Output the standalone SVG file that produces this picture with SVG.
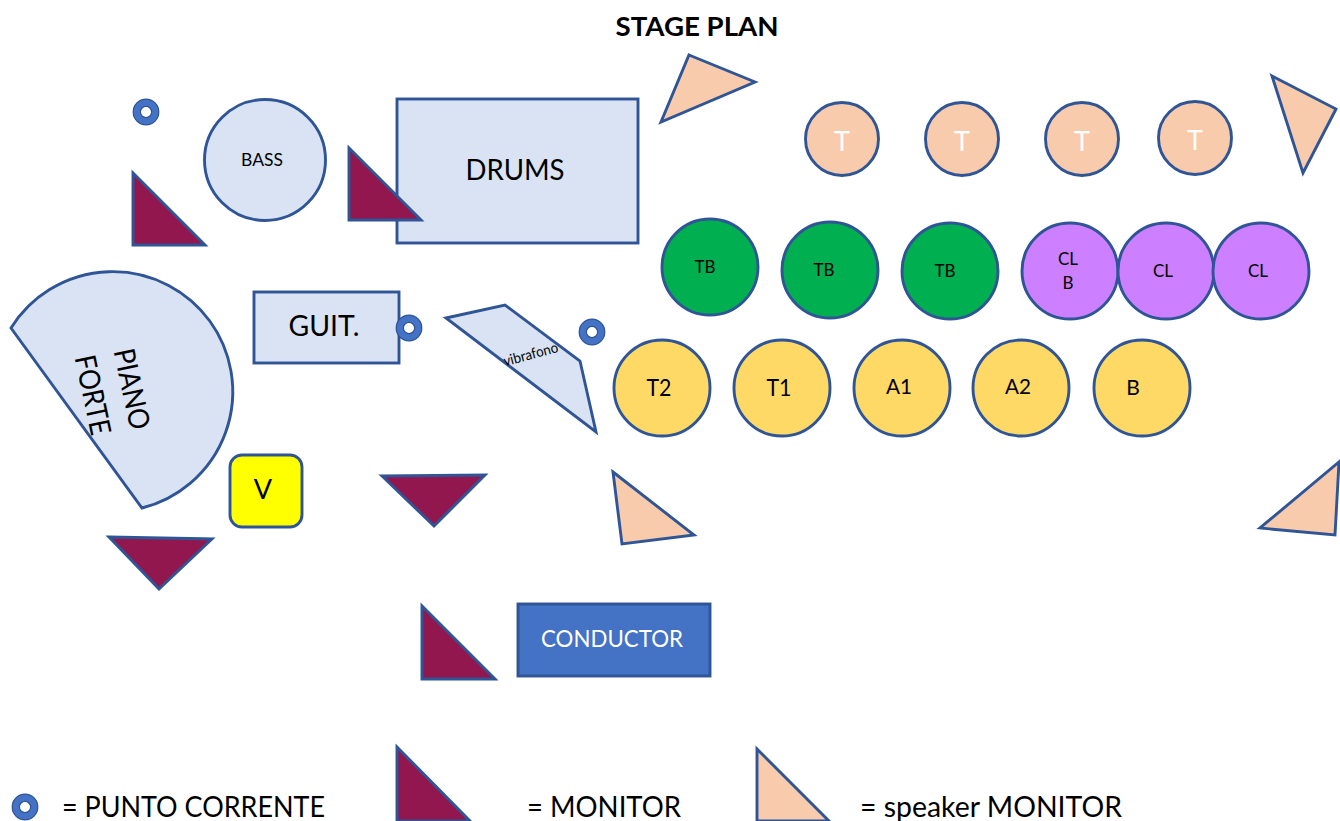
<svg xmlns="http://www.w3.org/2000/svg" width="1340" height="821" viewBox="0 0 1340 821">
<defs><style>
text{font-family:Lato,"Liberation Sans",sans-serif;fill:#000;text-anchor:middle}
.s{stroke:#2f5597;stroke-width:2.9;stroke-linejoin:miter}
.b{fill:#dae3f3}.m{fill:#93174f}.p{fill:#f8cbad}.g{fill:#00b050}.v{fill:#cc80ff}.y{fill:#ffd966}
.d{fill:#fff;stroke:#4472c4;stroke-width:7.5}
.dd{fill:none;stroke:#2f5597;stroke-width:1.2}
</style>
<g id="dot"><circle r="9.2" class="d"/><circle r="12.8" class="dd"/><circle r="5.6" class="dd"/></g>
</defs>
<rect width="1340" height="821" fill="#fff"/>
<text x="697" y="36" font-size="27" font-weight="700" textLength="163" lengthAdjust="spacingAndGlyphs">STAGE PLAN</text>
<g id="connectors"/>
<g id="drums"><rect x="397" y="99" width="241" height="144" class="s b"/><text x="515" y="180" font-size="29" textLength="99" lengthAdjust="spacingAndGlyphs">DRUMS</text></g>
<g id="bass"><circle cx="265" cy="160" r="60.5" class="s b"/><text x="262" y="166" font-size="17.5" textLength="42" lengthAdjust="spacingAndGlyphs">BASS</text></g>
<g id="mon1"><path d="M133 173V245H205Z" class="s m"/></g>
<g id="mon2"><path d="M349 148V220H421Z" class="s m"/></g>
<g id="dot1"><use href="#dot" x="146" y="112"/></g>
<g id="piano"><path d="M11 328A120 120 0 1 1 142 508Z" class="s b"/><text transform="translate(122 391) rotate(78)" font-size="29" textLength="82" lengthAdjust="spacingAndGlyphs">PIANO</text><text transform="translate(83 397) rotate(78)" font-size="29" textLength="81" lengthAdjust="spacingAndGlyphs">FORTE</text></g>
<g id="guit"><rect x="254" y="292" width="145" height="71" class="s b"/><text x="324" y="336" font-size="29" textLength="71" lengthAdjust="spacingAndGlyphs">GUIT.</text></g>
<g id="dot2"><use href="#dot" x="409" y="328"/></g>
<g id="vibrafono"><path d="M446 318L505 305L580 361L596 432Z" class="s b"/><text transform="translate(532 359) rotate(-15)" font-size="14.5" textLength="56" lengthAdjust="spacingAndGlyphs">vibrafono</text></g>
<g id="dot3"><use href="#dot" x="592" y="332"/></g>
<g id="v"><rect x="230" y="455" width="72" height="72" rx="12" fill="#ff0" class="s"/><text x="263" y="499" font-size="27">V</text></g>
<g id="mon3"><path d="M382 476L485 475L434 526Z" class="s m"/></g>
<g id="mon4"><path d="M109 537L212 539L159 589Z" class="s m"/></g>
<g id="mon5"><path d="M422 606V679H495Z" class="s m"/></g>
<g id="conductor"><rect x="518" y="604" width="192" height="72" fill="#4472c4" class="s"/><text x="612" y="647" font-size="23.5" style="fill:#fff" textLength="142" lengthAdjust="spacingAndGlyphs">CONDUCTOR</text></g>
<g id="sp1"><path d="M689 55L755 82L661 122Z" class="s p"/></g>
<g id="sp2"><path d="M1272 76L1336 109L1303 173Z" class="s p"/></g>
<g id="sp3"><path d="M613 472L694 535L622 544Z" class="s p"/></g>
<g id="sp4"><path d="M1339 462L1335 535L1260 528Z" class="s p"/></g>
<g id="t1"><circle cx="842" cy="139" r="36.5" class="s p"/><text x="842" y="151" font-size="27" style="fill:#fff">T</text></g>
<g id="t2"><circle cx="962" cy="139" r="36.5" class="s p"/><text x="962" y="151" font-size="27" style="fill:#fff">T</text></g>
<g id="t3"><circle cx="1082" cy="139" r="36.5" class="s p"/><text x="1082" y="151" font-size="27" style="fill:#fff">T</text></g>
<g id="t4"><circle cx="1195" cy="138" r="36.5" class="s p"/><text x="1195" y="150" font-size="27" style="fill:#fff">T</text></g>
<g id="tb1"><circle cx="710" cy="267" r="48" class="s g"/><text x="705" y="273" font-size="17">TB</text></g>
<g id="tb2"><circle cx="830" cy="270" r="48" class="s g"/><text x="824" y="276" font-size="17">TB</text></g>
<g id="tb3"><circle cx="950" cy="271" r="48" class="s g"/><text x="945" y="277" font-size="17">TB</text></g>
<g id="clb"><circle cx="1070" cy="271" r="48" class="s v"/><text x="1068" y="265" font-size="17">CL</text><text x="1068" y="289" font-size="17">B</text></g>
<g id="cl1"><circle cx="1166" cy="271" r="48" class="s v"/><text x="1163" y="277" font-size="17">CL</text></g>
<g id="cl2"><circle cx="1261" cy="271" r="48" class="s v"/><text x="1258" y="277" font-size="17">CL</text></g>
<g id="t2s"><circle cx="662" cy="388" r="48" class="s y"/><text x="659" y="396" font-size="24" textLength="25" lengthAdjust="spacingAndGlyphs">T2</text></g>
<g id="t1s"><circle cx="782" cy="388" r="48" class="s y"/><text x="779" y="396" font-size="24" textLength="25" lengthAdjust="spacingAndGlyphs">T1</text></g>
<g id="a1"><circle cx="902" cy="388" r="48" class="s y"/><text x="899" y="394" font-size="22" textLength="26" lengthAdjust="spacingAndGlyphs">A1</text></g>
<g id="a2"><circle cx="1021" cy="388" r="48" class="s y"/><text x="1018" y="394" font-size="22" textLength="26" lengthAdjust="spacingAndGlyphs">A2</text></g>
<g id="b"><circle cx="1142" cy="388" r="48" class="s y"/><text x="1133" y="395" font-size="21">B</text></g>
<g id="legend">
<use href="#dot" x="25" y="807"/>
<text x="193.500" y="817" font-size="29" textLength="263" lengthAdjust="spacingAndGlyphs">= PUNTO CORRENTE</text>
<path d="M397 747V821H470Z" class="s m"/>
<text x="604" y="817" font-size="29" textLength="154" lengthAdjust="spacingAndGlyphs">= MONITOR</text>
<path d="M757 749V821H829Z" class="s p"/>
<text x="991" y="817" font-size="29" textLength="262" lengthAdjust="spacingAndGlyphs">= speaker MONITOR</text>
</g>
</svg>
